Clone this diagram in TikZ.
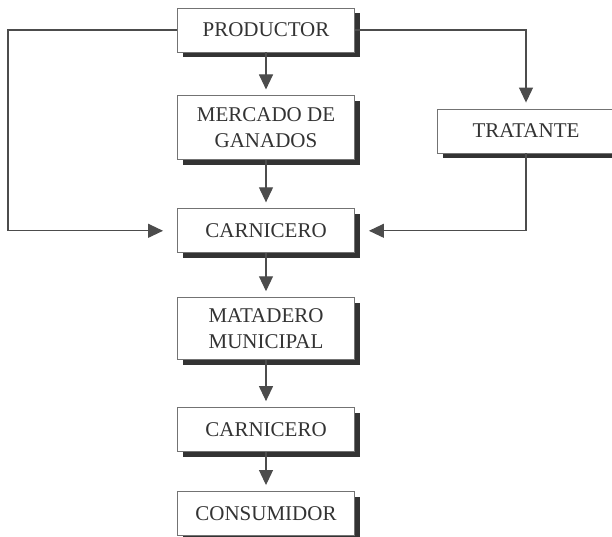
\documentclass[tikz,border=0pt]{standalone}
\usepackage{fontspec}
\setmainfont{Liberation Serif}
\usetikzlibrary{positioning,shadows,arrows.meta}

\begin{document}
\begin{tikzpicture}[x=1pt, y=-1pt,
		box/.style={draw=black!55, line width=0.9pt, fill=white, minimum width=177pt, minimum height=44pt,
			align=center, text=black!80, font=\fontsize{21}{26}\selectfont,
			drop shadow={shadow xshift=5pt, shadow yshift=-5pt, fill=black!80, opacity=1}},
		arr/.style={draw=black!70, line width=1.1pt, -{Triangle[length=15pt,width=14pt]}, shorten >=6pt}]
		\useasboundingbox (0,0) rectangle (612,537);

		\node[box] (prod) at (266,30) {PRODUCTOR};
		\node[box, minimum height=64pt] (merc) [below=43pt of prod] {MERCADO DE\\GANADOS};
		\node[box] (trat) at (526,131) {TRATANTE};
		\node[box] (carn1) [below=48pt of merc] {CARNICERO};
		\node[box, minimum height=62pt] (mata) [below=44pt of carn1] {MATADERO\\MUNICIPAL};
		\node[box] (carn2) [below=47pt of mata] {CARNICERO};
		\node[box] (cons) [below=39pt of carn2] {CONSUMIDOR};
		\coordinate (lft) at (8,130);

		\draw[arr] (prod) -- (merc);
		\draw[arr] (merc) -- (carn1);
		\draw[arr] (carn1) -- (mata);
		\draw[arr] (mata) -- (carn2);
		\draw[arr] (carn2) -- (cons);
		\draw[arr] (prod.east) -| (trat.north);
		\draw[arr, shorten >=14pt] (trat.south) |- (carn1.east);
		\draw[arr, shorten >=14pt] (prod.west) -| (lft) |- (carn1.west);
	\end{tikzpicture}
\end{document}
